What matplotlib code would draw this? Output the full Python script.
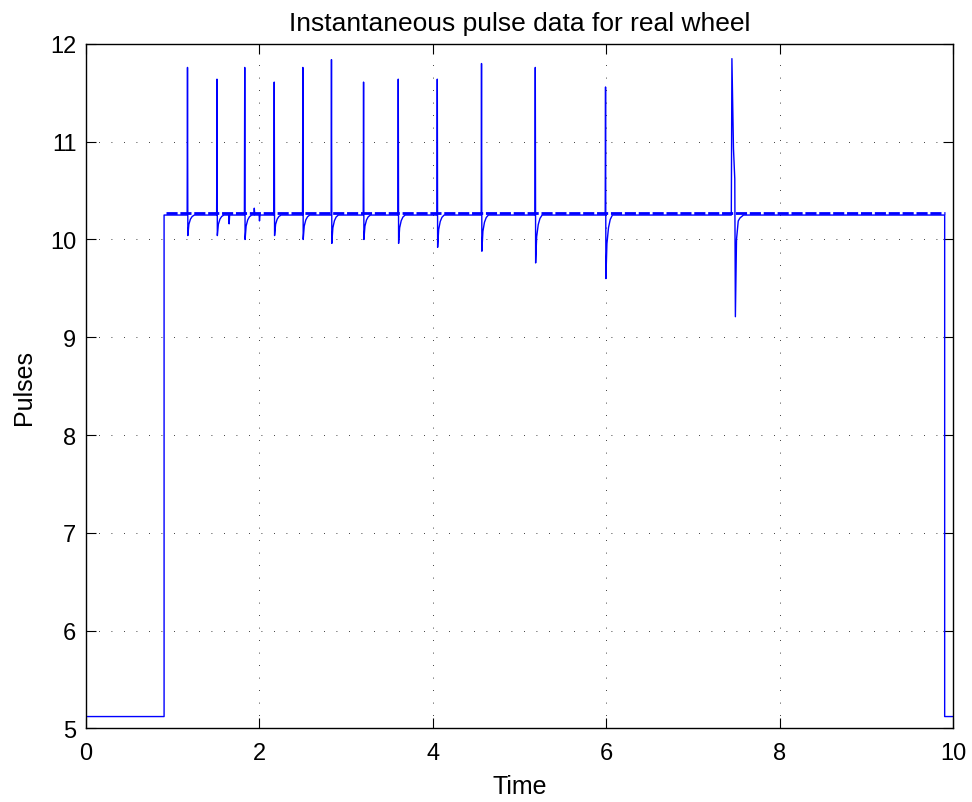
import numpy as np
import matplotlib
matplotlib.use("Agg")
import matplotlib.pyplot as plt

# niveles
base_level = 5.12
plateau_level = 10.25
noise_level = 10.268
t_up = 0.90
t_down = 9.90
t_end = 10.0

# picos: tiempo, maximo, minimo
spike_t = [1.17, 1.51, 1.83, 2.17, 2.50, 2.83, 3.20, 3.60, 4.05, 4.56, 5.18, 5.99]
spike_peak = [11.76, 11.64, 11.76, 11.61, 11.76, 11.84, 11.61, 11.64, 11.64, 11.80, 11.76, 11.56]
spike_dip = [10.04, 10.04, 10.00, 10.04, 10.00, 9.96, 10.00, 9.96, 9.92, 9.88, 9.76, 9.60]

# recuperacion despues del minimo (dt, fraccion recuperada)
rec_dt = [0.012, 0.03, 0.05, 0.075]
rec_frac = [0.55, 0.8, 0.93, 1.0]

# pequenos eventos en la meseta
blip_t = [1.65, 1.94, 2.00]
blip_v = [10.16, 10.32, 10.19]

# pico grande cerca de 7.45
big_t = [7.440, 7.447, 7.465, 7.480, 7.487, 7.500, 7.520, 7.540, 7.580]
big_v = [10.25, 11.85, 10.93, 10.62, 9.21, 10.00, 10.19, 10.22, 10.25]

# Construimos la serie
t = [0.0, t_up, t_up]
y = [base_level, base_level, plateau_level]
events = []
for ts, pk, dp in zip(spike_t, spike_peak, spike_dip):
    pts = [(ts - 0.004, plateau_level), (ts, pk), (ts + 0.004, dp)]
    for d, f in zip(rec_dt, rec_frac):
        pts.append((ts + 0.004 + d, dp + f * (plateau_level - dp)))
    events.append(pts)
for bt, bv in zip(blip_t, blip_v):
    events.append([(bt - 0.004, plateau_level), (bt, bv), (bt + 0.006, plateau_level)])
events.append(list(zip(big_t, big_v)))
events.sort(key=lambda e: e[0][0])
for e in events:
    for a, b in e:
        t.append(a)
        y.append(b)
t += [t_down, t_down, t_end]
y += [plateau_level, base_level, base_level]

fig = plt.figure(figsize=(9.72, 8.03), dpi=100)
plt.rcParams['font.family'] = ['Liberation Sans', 'DejaVu Sans']
ax = fig.add_axes([0.0885, 0.0918, 0.8923, 0.8522])

# ruido de la meseta
ax.plot([t_up + 0.02, t_down], [noise_level, noise_level], color=(0, 0, 1),
        linewidth=2.0, dashes=(4, 1))
ax.plot(t, y, color=(0, 0, 1), linewidth=1.0)

ax.set_xlim(0, 10)
ax.set_ylim(5, 12)
ax.set_xticks(np.arange(0, 11, 2))
ax.set_yticks(np.arange(5, 13, 1))
ax.tick_params(direction='in', length=7, width=0.8, labelsize=17,
               top=True, right=True)
ax.tick_params(axis='x', pad=10)
ax.tick_params(axis='y', pad=7)
for s in ax.spines.values():
    s.set_linewidth(1.0)
ax.grid(True, color='k', linewidth=0.6, linestyle=(0, (1, 14)))

ax.set_title("Instantaneous pulse data for real wheel", fontsize=19, pad=10)
ax.set_xlabel("Time", fontsize=18, labelpad=7)
ax.set_ylabel("Pulses", fontsize=18, labelpad=10)

fig.savefig("out.png", dpi=100)
